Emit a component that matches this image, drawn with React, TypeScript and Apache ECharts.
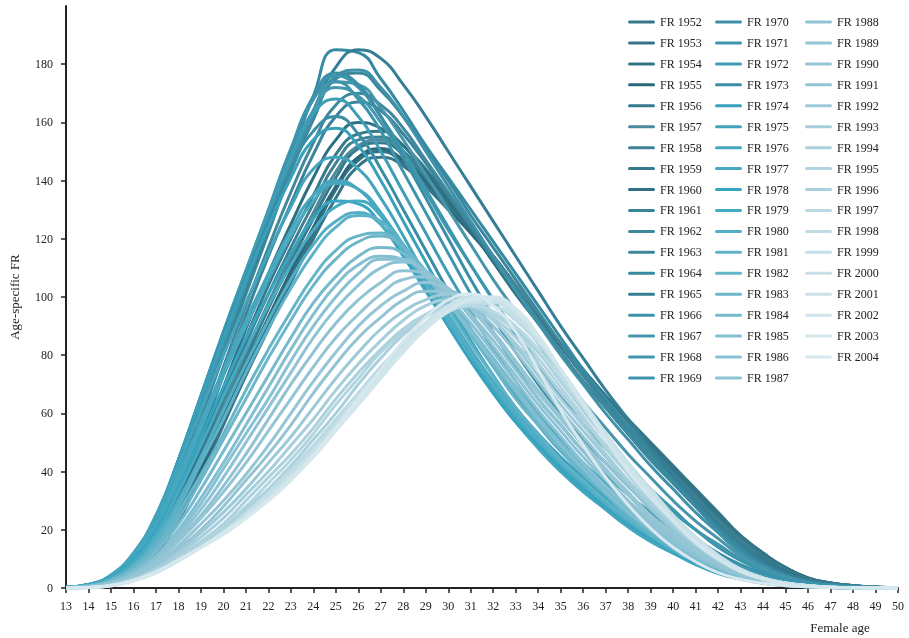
import { useEffect, useRef } from "react";
import * as echarts from "echarts";

// Ages on the horizontal axis
const AGES = [13, 14, 15, 16, 17, 18, 19, 20, 21, 22, 23, 24, 25, 26, 27, 28, 29, 30, 31, 32, 33, 34, 35, 36, 37, 38, 39, 40, 41, 42, 43, 44, 45, 46, 47, 48, 49, 50];

const YEARS = [1952, 1953, 1954, 1955, 1956, 1957, 1958, 1959, 1960, 1961, 1962, 1963, 1964, 1965, 1966, 1967, 1968, 1969, 1970, 1971, 1972, 1973, 1974, 1975, 1976, 1977, 1978, 1979, 1980, 1981, 1982, 1983, 1984, 1985, 1986, 1987, 1988, 1989, 1990, 1991, 1992, 1993, 1994, 1995, 1996, 1997, 1998, 1999, 2000, 2001, 2002, 2003, 2004];

// Age-specific fertility rates (births per 1000 women), ages 13..50
const FR1952 = [0.1, 0.4, 1.5, 5, 12, 24, 40, 58, 75, 91, 107, 123, 137, 148, 150, 146, 139, 131, 123, 114, 104, 94, 84, 75, 66, 58, 50, 42, 34, 26, 18, 12, 7, 3.5, 1.7, 0.8, 0.3, 0.1];
const FR1953 = [0.1, 0.4, 1.5, 5, 12, 23, 39, 56, 73, 89, 105, 120, 134, 145, 148, 145, 138, 130, 122, 113, 103, 93, 83, 74, 65, 57, 49, 41, 33, 25, 18, 12, 7, 3.5, 1.7, 0.8, 0.3, 0.1];
const FR1954 = [0.1, 0.4, 1.6, 5, 12, 24, 40, 58, 75, 91, 107, 122, 137, 147, 150, 147, 140, 132, 123, 114, 104, 94, 84, 75, 66, 57, 49, 41, 33, 25, 17, 11, 7, 3.4, 1.7, 0.8, 0.3, 0.1];
const FR1955 = [0.1, 0.5, 1.7, 5.5, 13, 25, 41, 59, 77, 93, 109, 124, 138, 148, 151, 147, 140, 131, 122, 113, 103, 93, 83, 74, 65, 56, 48, 40, 32, 24, 17, 11, 6.5, 3.3, 1.6, 0.8, 0.3, 0.1];
const FR1956 = [0.1, 0.5, 1.8, 6, 13, 26, 43, 61, 79, 96, 112, 127, 141, 151, 153, 149, 141, 132, 123, 114, 104, 94, 84, 74, 65, 56, 48, 40, 32, 24, 17, 11, 6.5, 3.2, 1.6, 0.7, 0.3, 0.1];
const FR1957 = [0.1, 0.5, 1.9, 6, 14, 27, 44, 63, 81, 98, 114, 129, 143, 152, 154, 150, 142, 133, 124, 114, 104, 94, 84, 74, 65, 56, 47, 39, 31, 23, 16, 10, 6, 3, 1.5, 0.7, 0.3, 0.1];
const FR1958 = [0.1, 0.5, 2, 6.5, 15, 28, 46, 65, 84, 101, 117, 132, 146, 154, 155, 150, 142, 133, 123, 113, 103, 93, 83, 73, 64, 55, 47, 39, 31, 23, 16, 10, 6, 3, 1.5, 0.7, 0.3, 0.1];
const FR1959 = [0.1, 0.5, 2, 6.5, 15, 29, 47, 67, 86, 104, 120, 135, 149, 156, 157, 152, 144, 134, 124, 114, 103, 93, 83, 73, 64, 55, 46, 38, 30, 22, 15, 10, 6, 3, 1.4, 0.7, 0.3, 0.1];
const FR1960 = [0.1, 0.6, 2.2, 7, 16, 30, 49, 69, 89, 108, 125, 141, 154, 160, 158, 152, 143, 133, 123, 112, 101, 91, 81, 71, 62, 53, 45, 37, 29, 21, 14, 9, 5.5, 2.8, 1.3, 0.6, 0.3, 0.1];
const FR1961 = [0.1, 0.6, 2.3, 7.5, 17, 32, 52, 73, 94, 114, 132, 149, 162, 167, 164, 156, 146, 135, 124, 113, 102, 91, 81, 71, 62, 53, 44, 36, 28, 20, 14, 9, 5, 2.6, 1.2, 0.6, 0.2, 0.1];
const FR1962 = [0.1, 0.7, 2.5, 8, 18, 34, 54, 76, 97, 117, 136, 153, 166, 170, 166, 158, 147, 136, 125, 114, 103, 92, 81, 71, 62, 53, 44, 36, 28, 20, 13, 8.5, 5, 2.5, 1.2, 0.6, 0.2, 0.1];
const FR1963 = [0.2, 0.7, 2.7, 8.5, 19, 37, 58, 80, 101, 122, 143, 161, 175, 177, 171, 162, 151, 140, 128, 117, 106, 95, 84, 73, 63, 54, 45, 37, 29, 21, 14, 8.5, 5, 2.5, 1.2, 0.6, 0.2, 0.1];
const FR1964 = [0.2, 0.8, 3, 9, 21, 41, 64, 85, 106, 127, 148, 169, 185, 184, 175, 164, 152, 141, 130, 119, 108, 97, 86, 75, 65, 55, 46, 37, 29, 21, 14, 8, 4.5, 2.2, 1, 0.5, 0.2, 0.1];
const FR1965 = [0.2, 0.8, 3, 9, 20, 39, 61, 82, 103, 124, 145, 164, 179, 185, 182, 173, 162, 150, 138, 126, 114, 102, 90, 79, 68, 58, 48, 39, 30, 22, 15, 9, 5, 2.4, 1.1, 0.5, 0.2, 0.1];
const FR1966 = [0.2, 0.8, 3, 9, 21, 40, 62, 83, 104, 125, 145, 163, 176, 178, 172, 162, 150, 138, 126, 114, 102, 91, 80, 70, 60, 51, 42, 34, 26, 19, 12, 7.5, 4.2, 2, 1, 0.5, 0.2, 0.1];
const FR1967 = [0.2, 0.9, 3.2, 9.5, 22, 41, 63, 85, 106, 127, 147, 164, 174, 173, 165, 154, 142, 130, 118, 106, 95, 84, 74, 64, 55, 46, 38, 30, 23, 17, 11, 6.5, 3.7, 1.8, 0.9, 0.4, 0.2, 0.1];
const FR1968 = [0.2, 0.9, 3.3, 10, 23, 42, 64, 86, 107, 128, 148, 164, 172, 169, 160, 148, 136, 123, 111, 99, 88, 77, 67, 58, 49, 41, 34, 27, 20, 15, 10, 6, 3.3, 1.6, 0.8, 0.4, 0.2, 0.1];
const FR1969 = [0.2, 1, 3.5, 10, 23, 43, 65, 87, 108, 129, 150, 168, 176, 172, 162, 150, 137, 124, 111, 99, 87, 76, 66, 56, 48, 40, 33, 26, 20, 14, 9.5, 5.8, 3.2, 1.6, 0.8, 0.4, 0.2, 0.1];
const FR1970 = [0.3, 1.1, 4, 11, 24, 44, 66, 87, 108, 129, 150, 169, 177, 173, 162, 148, 134, 120, 106, 93, 81, 70, 60, 51, 43, 35, 28, 22, 17, 12, 8, 5, 2.8, 1.4, 0.7, 0.3, 0.1, 0];
const FR1971 = [0.3, 1.1, 4, 11, 24, 44, 66, 88, 109, 130, 151, 168, 174, 168, 157, 143, 129, 115, 101, 88, 76, 65, 56, 47, 39, 32, 26, 20, 15, 11, 7.3, 4.5, 2.5, 1.3, 0.6, 0.3, 0.1, 0];
const FR1972 = [0.3, 1.2, 4.2, 11, 24, 44, 66, 88, 109, 129, 148, 163, 168, 162, 150, 136, 122, 108, 95, 82, 71, 60, 51, 43, 36, 29, 23, 18, 13.5, 9.5, 6.5, 4, 2.2, 1.1, 0.5, 0.2, 0.1, 0];
const FR1973 = [0.3, 1.2, 4.3, 11.5, 24, 44, 65, 87, 107, 126, 144, 157, 162, 156, 144, 130, 116, 102, 89, 77, 66, 56, 47, 40, 33, 27, 21, 16, 12.5, 9, 6, 3.7, 2, 1, 0.5, 0.2, 0.1, 0];
const FR1974 = [0.3, 1.2, 4.4, 12, 25, 44, 65, 86, 106, 124, 141, 154, 158, 152, 140, 126, 112, 98, 85, 73, 62, 53, 45, 38, 31, 25, 20, 15, 11.5, 8.2, 5.5, 3.4, 1.9, 1, 0.5, 0.2, 0.1, 0];
const FR1975 = [0.3, 1.2, 4.5, 12, 24, 42, 61, 80, 98, 115, 131, 144, 148, 144, 134, 121, 107, 93, 80, 68, 58, 49, 41, 34, 27, 21, 16, 12, 8, 5, 3, 1.6, 0.8, 0.4, 0.2, 0.1, 0, 0];
const FR1976 = [0.3, 1.1, 4.2, 11, 22, 39, 57, 75, 92, 108, 123, 135, 140, 137, 128, 116, 103, 90, 78, 67, 57, 48, 40, 33, 27, 21, 16, 12, 8.5, 5.5, 3.3, 1.8, 0.9, 0.4, 0.2, 0.1, 0, 0];
const FR1977 = [0.3, 1.1, 4, 10.5, 21, 37, 55, 73, 90, 106, 121, 133, 139, 137, 129, 117, 105, 92, 80, 69, 59, 50, 42, 35, 28, 22, 17, 12.5, 8.5, 5.5, 3.3, 1.8, 0.9, 0.4, 0.2, 0.1, 0, 0];
const FR1978 = [0.3, 1, 3.7, 10, 20, 35, 52, 69, 86, 101, 115, 127, 133, 132, 125, 114, 102, 90, 78, 67, 57, 49, 41, 34, 28, 22, 17, 12.5, 8.5, 5.5, 3.3, 1.8, 0.9, 0.4, 0.2, 0.1, 0, 0];
const FR1979 = [0.2, 0.9, 3.4, 9, 18.5, 33, 49, 66, 82, 97, 111, 123, 131, 133, 128, 118, 106, 94, 82, 71, 61, 52, 44, 36, 29, 23, 18, 13, 9, 6, 3.5, 1.9, 1, 0.5, 0.2, 0.1, 0, 0];
const FR1980 = [0.2, 0.8, 3, 8, 17, 30, 45, 61, 77, 92, 106, 118, 126, 129, 125, 116, 105, 93, 81, 70, 60, 51, 43, 36, 29, 23, 18, 13, 9, 6, 3.5, 1.9, 1, 0.5, 0.2, 0.1, 0, 0];
const FR1981 = [0.2, 0.8, 2.9, 7.5, 16, 28, 43, 58, 74, 89, 103, 115, 124, 128, 126, 118, 108, 96, 84, 73, 62, 53, 44, 37, 30, 24, 18, 13.5, 9.5, 6.2, 3.6, 2, 1, 0.5, 0.2, 0.1, 0, 0];
const FR1982 = [0.2, 0.7, 2.7, 7, 14.5, 26, 39, 53, 68, 82, 95, 107, 116, 121, 122, 117, 108, 98, 87, 76, 65, 56, 47, 39, 32, 25, 19, 14, 10, 6.5, 3.8, 2, 1, 0.5, 0.2, 0.1, 0, 0];
const FR1983 = [0.2, 0.7, 2.5, 6.5, 13.5, 24, 37, 51, 65, 79, 92, 104, 113, 119, 121, 117, 109, 99, 88, 77, 67, 57, 48, 40, 33, 26, 20, 15, 10.5, 6.8, 4, 2.1, 1.1, 0.5, 0.2, 0.1, 0, 0];
const FR1984 = [0.1, 0.6, 2.3, 6, 12.5, 22, 34, 47, 60, 73, 86, 98, 107, 114, 117, 115, 108, 99, 89, 79, 69, 59, 50, 42, 34, 27, 21, 15.5, 11, 7, 4.1, 2.2, 1.1, 0.5, 0.2, 0.1, 0, 0];
const FR1985 = [0.1, 0.5, 2, 5.5, 11, 20, 31, 43, 56, 69, 82, 94, 104, 111, 114, 113, 107, 98, 88, 78, 68, 58, 49, 41, 33, 26, 20, 15, 10.5, 7, 4.2, 2.3, 1.2, 0.5, 0.2, 0.1, 0, 0];
const FR1986 = [0.1, 0.5, 1.9, 5, 10.5, 19, 29, 41, 53, 65, 78, 90, 100, 108, 113, 113, 108, 100, 91, 81, 71, 61, 52, 43, 35, 28, 21, 16, 11, 7.2, 4.3, 2.4, 1.2, 0.5, 0.2, 0.1, 0, 0];
const FR1987 = [0.1, 0.5, 1.8, 4.8, 10, 18, 27, 38, 50, 62, 74, 86, 96, 104, 110, 112, 109, 102, 93, 83, 73, 63, 54, 45, 37, 29, 22, 16.5, 11.5, 7.5, 4.4, 2.4, 1.2, 0.5, 0.2, 0.1, 0, 0];
const FR1988 = [0.1, 0.4, 1.6, 4.5, 9.5, 17, 25, 35, 46, 58, 70, 81, 91, 99, 105, 109, 108, 102, 94, 85, 75, 65, 56, 47, 38, 30, 23, 17, 12, 7.8, 4.5, 2.5, 1.2, 0.6, 0.2, 0.1, 0, 0];
const FR1989 = [0.1, 0.4, 1.5, 4.2, 9, 16, 24, 33, 43, 54, 65, 76, 86, 94, 101, 106, 107, 103, 96, 87, 77, 67, 58, 49, 40, 32, 24, 18, 12.5, 8, 4.7, 2.6, 1.3, 0.6, 0.2, 0.1, 0, 0];
const FR1990 = [0.1, 0.3, 1.3, 3.8, 8, 14.5, 22, 30, 39, 49, 60, 71, 81, 90, 97, 102, 105, 102, 96, 88, 78, 68, 59, 50, 41, 33, 25, 19, 13, 8.5, 5, 2.7, 1.3, 0.6, 0.2, 0.1, 0, 0];
const FR1991 = [0.1, 0.3, 1.2, 3.5, 7.5, 13.5, 20, 28, 37, 46, 56, 67, 77, 86, 93, 99, 102, 102, 97, 90, 81, 71, 61, 52, 43, 35, 27, 20, 14, 9, 5.2, 2.8, 1.4, 0.6, 0.3, 0.1, 0, 0];
const FR1992 = [0.1, 0.3, 1.1, 3.2, 7, 12.5, 19, 26, 34, 43, 52, 62, 72, 81, 89, 95, 99, 101, 98, 92, 83, 73, 63, 54, 45, 36, 28, 21, 14.5, 9.3, 5.4, 2.9, 1.4, 0.6, 0.3, 0.1, 0, 0];
const FR1993 = [0, 0.2, 1, 3, 6.5, 11.5, 17.5, 24, 32, 40, 49, 58, 68, 77, 85, 92, 97, 99, 97, 92, 84, 75, 65, 56, 46, 37, 29, 21.5, 15, 9.6, 5.6, 3, 1.5, 0.7, 0.3, 0.1, 0, 0];
const FR1994 = [0, 0.2, 1, 2.9, 6, 10.5, 16, 22, 30, 38, 46, 55, 65, 74, 82, 89, 94, 97, 97, 93, 86, 77, 67, 58, 48, 39, 30, 22.5, 15.5, 10, 5.8, 3.1, 1.5, 0.7, 0.3, 0.1, 0, 0];
const FR1995 = [0, 0.2, 0.9, 2.7, 5.7, 10, 15, 21, 28, 36, 44, 53, 63, 72, 81, 88, 94, 97, 98, 94, 88, 79, 69, 59, 49, 40, 31, 23, 16, 10.5, 6, 3.2, 1.6, 0.7, 0.3, 0.1, 0, 0];
const FR1996 = [0, 0.2, 0.9, 2.6, 5.5, 9.7, 14.5, 20, 27, 34, 42, 51, 60, 70, 79, 87, 93, 97, 98, 95, 89, 81, 71, 61, 51, 41, 32, 24, 16.5, 10.7, 6.2, 3.3, 1.6, 0.7, 0.3, 0.1, 0, 0];
const FR1997 = [0, 0.2, 0.9, 2.5, 5.3, 9.4, 14, 19.5, 26, 33, 41, 49, 58, 67, 76, 84, 91, 95, 97, 95, 90, 82, 72, 62, 52, 42, 33, 24.5, 17, 11, 6.3, 3.4, 1.7, 0.8, 0.3, 0.1, 0, 0];
const FR1998 = [0, 0.2, 0.9, 2.5, 5.3, 9.3, 14, 19, 25.5, 32.5, 40, 48, 57, 66, 75, 83, 90, 95, 98, 97, 92, 84, 74, 64, 53, 43, 34, 25, 17.5, 11.3, 6.5, 3.5, 1.7, 0.8, 0.3, 0.1, 0, 0];
const FR1999 = [0, 0.2, 0.9, 2.5, 5.4, 9.4, 14, 19, 25, 32, 39, 47, 56, 65, 74, 82, 89, 95, 98, 98, 93, 85, 75, 64, 53, 43, 34, 25, 17.5, 11.3, 6.5, 3.5, 1.7, 0.8, 0.3, 0.1, 0, 0];
const FR2000 = [0, 0.2, 0.9, 2.6, 5.5, 9.5, 14, 19, 25, 32, 39, 47, 56, 66, 75, 84, 91, 97, 100, 99, 94, 85, 75, 64, 53, 43, 33, 24.5, 17, 11, 6.3, 3.4, 1.7, 0.8, 0.3, 0.1, 0, 0];
const FR2001 = [0, 0.2, 0.9, 2.6, 5.6, 9.6, 14, 19, 24.5, 31, 38, 46, 55, 65, 74, 83, 91, 97, 100, 100, 95, 86, 75, 64, 53, 42, 33, 24, 16.5, 10.7, 6.1, 3.3, 1.6, 0.8, 0.3, 0.1, 0, 0];
const FR2002 = [0, 0.2, 0.8, 2.5, 5.5, 9.5, 14, 18.5, 24, 30.5, 37.5, 45.5, 54.5, 64, 73, 82, 90, 96, 99, 99, 95, 86, 75, 63, 52, 41, 32, 23.5, 16, 10.4, 5.9, 3.2, 1.6, 0.8, 0.3, 0.1, 0, 0];
const FR2003 = [0, 0.2, 0.8, 2.5, 5.5, 9.5, 14, 18.5, 24, 30, 37, 45, 54, 63, 72, 81, 89, 95, 99, 100, 96, 87, 75, 63, 51, 40, 31, 23, 15.5, 10, 5.7, 3.1, 1.5, 0.7, 0.3, 0.1, 0, 0];
const FR2004 = [0, 0.2, 0.8, 2.5, 5.5, 9.5, 14, 19, 24, 30, 37, 45.5, 55, 65, 75, 85, 93, 99, 101, 97, 88, 75, 61, 49, 38, 28.5, 20.5, 14, 9, 5.3, 3, 1.6, 0.8, 0.4, 0.2, 0.1, 0.1, 0];

const RATES = [
  FR1952, FR1953, FR1954, FR1955, FR1956, FR1957, FR1958, FR1959, FR1960, FR1961,
  FR1962, FR1963, FR1964, FR1965, FR1966, FR1967, FR1968, FR1969, FR1970, FR1971,
  FR1972, FR1973, FR1974, FR1975, FR1976, FR1977, FR1978, FR1979, FR1980, FR1981,
  FR1982, FR1983, FR1984, FR1985, FR1986, FR1987, FR1988, FR1989, FR1990, FR1991,
  FR1992, FR1993, FR1994, FR1995, FR1996, FR1997, FR1998, FR1999, FR2000, FR2001,
  FR2002, FR2003, FR2004,
];

// One colour per year: deep teal for the 1950s, bright cyan in the 1970s, pale blue-grey by 2004
const COLORS = [
  "#357588", "#367487", "#337386", "#2c6879", "#367a8d", "#4b8a9c", "#3f8092", "#36798c", "#2e6f82",
  "#3a8399", "#3f889d", "#3d879c", "#358aa1", "#347f95", "#3d91a8", "#4896ab", "#4398ae", "#3c96ae",
  "#3a8ea6", "#3c95ad", "#3f9db6", "#398ea6", "#38a0ba", "#42a5bd", "#45a6be", "#48a8c0", "#37a4bf",
  "#46aac2", "#52aec5", "#5eb2c8", "#66b5c9", "#6db6ca", "#76bacd", "#82bfd1", "#88c1d3", "#8dc3d4",
  "#8fc3d4", "#93c5d5", "#96c6d6", "#94c4d4", "#9ccad8", "#a6cfdb", "#abd1dd", "#b2d5df", "#a9d0dc",
  "#badae3", "#bfdce5", "#c4dfe7", "#c7e0e8", "#cbe2e9", "#cfe4eb", "#d3e6ec", "#d7e8ee",
];

const Y_TICKS = [0, 20, 40, 60, 80, 100, 120, 140, 160, 180];

const FONT = "'Liberation Serif', 'Times New Roman', serif";
const INK = "#222";
// Plain stroke used as the legend marker
const LEGEND_LINE = "path://M1.5,0 L25.5,0 A1.5,1.5 0 0 1 25.5,3 L1.5,3 A1.5,1.5 0 0 1 1.5,0 Z";

export default function App() {
  const ref = useRef<HTMLDivElement>(null);

  useEffect(() => {
    if (!ref.current) return;
    const chart = echarts.init(ref.current, null, { renderer: "svg" });
    const names = YEARS.map((y) => `FR ${y}`);

    const legendColumn = (from: number, to: number, left: number) => ({
      orient: "vertical",
      left,
      top: 16,
      padding: 0,
      icon: LEGEND_LINE,
      itemWidth: 27,
      itemHeight: 3,
      itemGap: 8.94,
      selectedMode: false,
      data: names.slice(from, to),
      textStyle: { fontFamily: FONT, fontSize: 12, color: INK },
    });

    chart.setOption({
      animation: false,
      textStyle: { fontFamily: FONT },
      grid: { left: 65, right: 11, top: 6, bottom: 50 },
      legend: [legendColumn(0, 18, 628), legendColumn(18, 36, 715), legendColumn(36, 53, 805)],
      xAxis: {
        type: "value",
        min: 13,
        max: 50,
        interval: 1,
        name: "Female age",
        nameLocation: "end",
        nameGap: -58,
        nameTextStyle: {
          fontFamily: FONT,
          fontSize: 13,
          color: INK,
          align: "center",
          verticalAlign: "top",
          padding: [33, 0, 0, 0],
        },
        axisLine: { lineStyle: { color: INK, width: 2 } },
        axisTick: { length: 5, lineStyle: { color: INK, width: 1.5 } },
        axisLabel: { color: INK, fontFamily: FONT, fontSize: 12, margin: 12 },
        splitLine: { show: false },
      },
      yAxis: {
        type: "value",
        min: 0,
        max: 200,
        interval: 20,
        name: "Age-specific FR",
        nameLocation: "middle",
        nameGap: 45,
        nameTextStyle: { fontFamily: FONT, fontSize: 13, color: INK },
        axisLine: { show: true, lineStyle: { color: INK, width: 2 } },
        axisTick: { show: true, length: 5, lineStyle: { color: INK, width: 1.5 }, customValues: Y_TICKS },
        axisLabel: { color: INK, fontFamily: FONT, fontSize: 12, margin: 13, customValues: Y_TICKS },
        splitLine: { show: false },
      },
      series: RATES.map((rates, i) => ({
        type: "line",
        name: names[i],
        data: rates.map((v, j) => [AGES[j], v]),
        smooth: true,
        symbol: "none",
        lineStyle: { width: 3, color: COLORS[i] },
        itemStyle: { color: COLORS[i] },
        emphasis: { disabled: true },
      })),
    });

    return () => chart.dispose();
  }, []);

  return <div ref={ref} style={{ position: "fixed", left: 0, top: 0, width: 909, height: 638 }} />;
}
